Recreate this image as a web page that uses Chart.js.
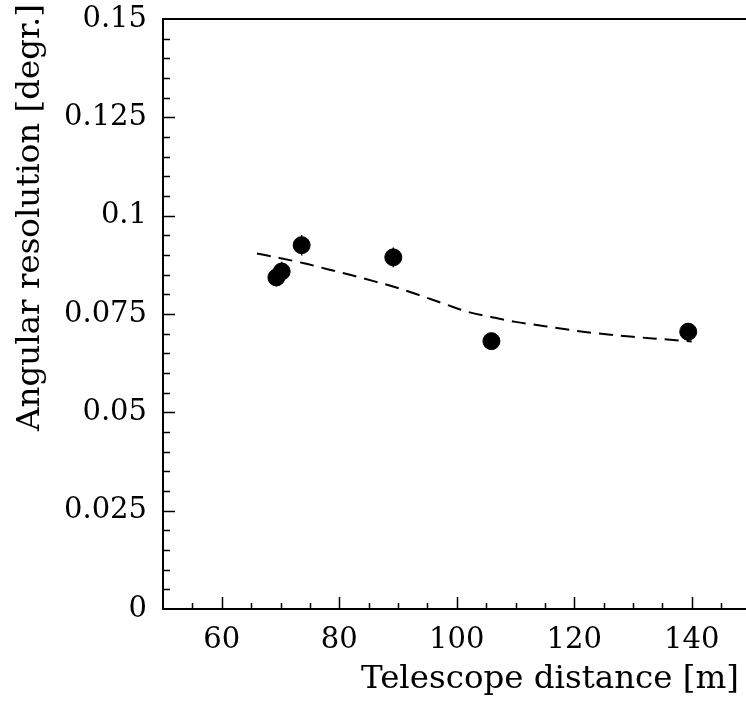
<!DOCTYPE html>
<html>
<head>
<meta charset="utf-8">
<script src="https://cdn.jsdelivr.net/npm/chart.js@4.4.1/dist/chart.umd.min.js"></script>
<style>
  html, body { margin:0; padding:0; background:#fff; overflow:hidden; }
  #wrap { width:746px; height:706px; overflow:hidden; position:relative; }
  canvas { display:block; }
</style>
</head>
<body>
<div id="wrap"><canvas id="chart" width="760" height="706"></canvas></div>
<script>
// Measured points (distance in m, resolution in degrees, error)
const distance   = [69.3, 70.2, 73.6, 89.2, 105.9, 139.4];
const resolution = [0.0843, 0.0858, 0.0925, 0.0894, 0.0681, 0.0705];
const resError   = [0.0023, 0.0025, 0.0026, 0.0025, 0.0018, 0.0018];

// Dashed model curve
const curveX = [66, 70, 74, 78, 82, 86, 90, 94, 98, 102, 106, 110, 115, 120, 125, 130, 135, 140];
const curveY = [0.0904, 0.0892, 0.0879, 0.0864, 0.0849, 0.0833, 0.0816, 0.0796, 0.0775,
                0.0755, 0.0742, 0.0730, 0.0719, 0.0708, 0.0699, 0.0692, 0.0686, 0.0680];

// Axis ticks
const xMajor = [60, 80, 100, 120, 140];
const xMinorStep = 5;
const yMajor = [0, 0.025, 0.05, 0.075, 0.1, 0.125, 0.15];
const yMinorStep = 0.005;

const X_MIN = 50, X_MAX = 150, Y_MIN = 0, Y_MAX = 0.15;
const FONT = 'DejaVu Serif';

function minorTicks(min, max, step){
  const out = [];
  const n = Math.round((max - min) / step);
  for(let i = 1; i < n; i++) out.push(+(min + i * step).toFixed(4));
  return out;
}

// Ticks point inward, ROOT style, plus frame top line
const frameTicks = {
  id: 'frameTicks',
  afterDraw(chart){
    const {ctx, chartArea: a, scales} = chart;
    const xs = scales.x, ys = scales.y;
    ctx.save();
    ctx.strokeStyle = '#000';
    ctx.lineWidth = 2;
    ctx.beginPath();
    ctx.moveTo(a.left - 1, a.top); ctx.lineTo(a.right, a.top);
    ctx.moveTo(a.right, a.top); ctx.lineTo(a.right, a.bottom);
    ctx.stroke();

    ctx.lineWidth = 1.5;
    ctx.beginPath();
    minorTicks(X_MIN, X_MAX, xMinorStep).forEach(v => {
      const px = Math.round(xs.getPixelForValue(v)) + 0.5;
      const len = xMajor.includes(v) ? 12 : 6;
      ctx.moveTo(px, a.bottom); ctx.lineTo(px, a.bottom - len);
    });
    minorTicks(Y_MIN, Y_MAX, yMinorStep).forEach(v => {
      const py = Math.round(ys.getPixelForValue(v)) + 0.5;
      const major = yMajor.some(m => Math.abs(m - v) < 1e-6);
      ctx.moveTo(a.left, py); ctx.lineTo(a.left + (major ? 12 : 7), py);
    });
    ctx.stroke();

    // axis titles
    ctx.fillStyle = '#000';
    ctx.font = '32.5px "' + FONT + '"';
    ctx.textAlign = 'right';
    ctx.textBaseline = 'alphabetic';
    ctx.fillText('Telescope distance [m]', 739, 688);
    ctx.translate(39, 4);
    ctx.rotate(-Math.PI / 2);
    ctx.fillText('Angular resolution [degr.]', 0, 0);
    ctx.restore();
  }
};

// Vertical error bars from the y scale
const errorBars = {
  id: 'errorBars',
  afterDatasetsDraw(chart){
    const {ctx, scales} = chart;
    ctx.save();
    ctx.strokeStyle = '#000';
    ctx.lineWidth = 1.5;
    ctx.beginPath();
    distance.forEach((d, i) => {
      const px = scales.x.getPixelForValue(d);
      ctx.moveTo(px, scales.y.getPixelForValue(resolution[i] - resError[i]));
      ctx.lineTo(px, scales.y.getPixelForValue(resolution[i] + resError[i]));
    });
    ctx.stroke();
    ctx.restore();
  }
};

Chart.defaults.font.family = FONT;
Chart.defaults.color = '#000';

new Chart(document.getElementById('chart'), {
  type: 'scatter',
  data: {
    datasets: [
      {
        label: 'data',
        data: distance.map((d, i) => ({x: d, y: resolution[i]})),
        backgroundColor: '#000',
        borderColor: '#000',
        pointRadius: 8.5,
        pointHoverRadius: 8.5,
        order: 1
      },
      {
        label: 'fit',
        type: 'line',
        data: curveX.map((d, i) => ({x: d, y: curveY[i]})),
        borderColor: '#000',
        borderWidth: 2,
        borderDash: [14, 8],
        pointRadius: 0,
        fill: false,
        cubicInterpolationMode: 'monotone',
        order: 2
      }
    ]
  },
  options: {
    responsive: false,
    animation: false,
    events: [],
    layout: { padding: { top: 19, right: 9, left: 0, bottom: 0 } },
    plugins: { legend: { display: false }, tooltip: { enabled: false } },
    scales: {
      x: {
        type: 'linear', min: X_MIN, max: X_MAX,
        grid: { display: false, drawTicks: false },
        border: { display: true, color: '#000', width: 2 },
        ticks: { autoSkip: false, maxRotation: 0, padding: 14, font: { size: 29 } },
        afterBuildTicks: s => { s.ticks = xMajor.map(v => ({value: v})); },
        afterFit: s => { s.height = 97; s.paddingLeft = 0; s.paddingRight = 0; }
      },
      y: {
        type: 'linear', min: Y_MIN, max: Y_MAX,
        grid: { display: false, drawTicks: false },
        border: { display: true, color: '#000', width: 2 },
        ticks: { autoSkip: false, padding: 16, font: { size: 29 },
                 callback: v => String(+v.toFixed(3)) },
        afterBuildTicks: s => { s.ticks = yMajor.map(v => ({value: v})); },
        afterFit: s => { s.width = 163; s.paddingTop = 0; s.paddingBottom = 0; }
      }
    }
  },
  plugins: [frameTicks, errorBars]
});
</script>
</body>
</html>
